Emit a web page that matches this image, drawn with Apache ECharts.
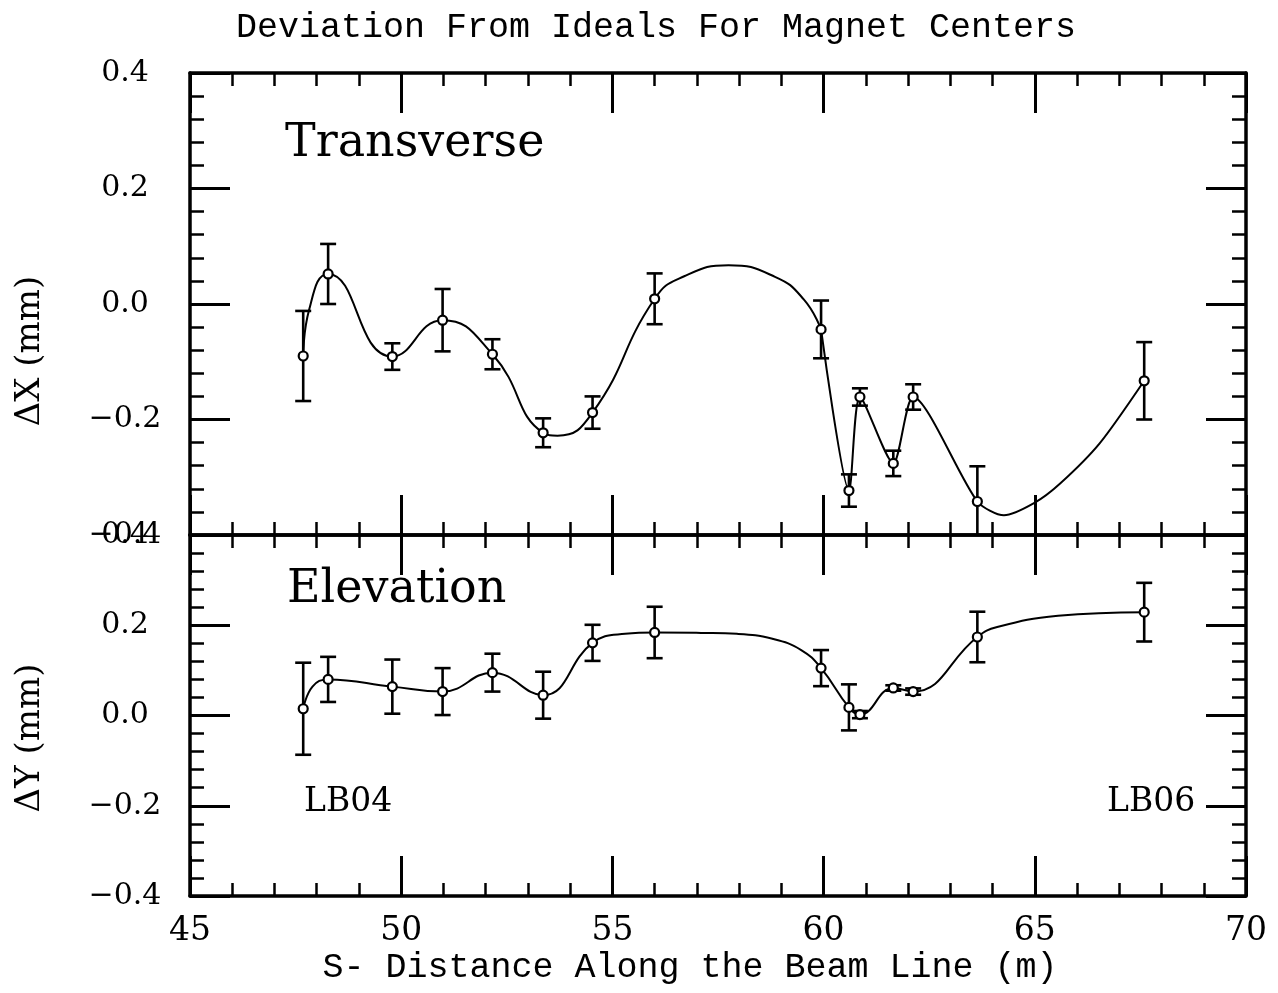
<!DOCTYPE html>
<html>
<head>
<meta charset="utf-8">
<script src="https://cdn.jsdelivr.net/npm/echarts@6/dist/echarts.min.js"></script>
<style>
  html, body { margin: 0; padding: 0; background: #fff; }
  #chart { width: 1278px; height: 993px; }
</style>
</head>
<body>
<div id="chart"></div>
<script>
// ---- Data ----
const magnetS = [47.68, 48.27, 49.79, 50.98, 52.16, 53.36, 54.53, 56.00, 59.94, 60.60, 60.86, 61.65, 62.12, 63.64, 67.59];
const deltaX  = [-0.090, 0.052, -0.091, -0.028, -0.087, -0.223, -0.188, 0.009, -0.044, -0.323, -0.161, -0.276, -0.161, -0.342, -0.133];
const deltaXErr = [0.078, 0.052, 0.023, 0.054, 0.026, 0.025, 0.028, 0.044, 0.050, 0.028, 0.015, 0.022, 0.022, 0.061, 0.067];
const deltaY  = [0.015, 0.080, 0.064, 0.053, 0.095, 0.045, 0.161, 0.184, 0.105, 0.018, 0.002, 0.061, 0.053, 0.174, 0.229];
const deltaYErr = [0.102, 0.050, 0.060, 0.052, 0.042, 0.052, 0.040, 0.057, 0.040, 0.051, 0.008, 0.006, 0.007, 0.056, 0.065];

// drawn fit curves (smooth part, then the sharp part)
const curveXS1 = [47.68, 47.82, 48.27, 49.79, 50.98, 52.16, 53.36, 53.70, 54.53, 56.00, 56.70, 57.75, 58.85, 59.53, 59.94];
const curveXV1 = [-0.090, -0.010, 0.052, -0.091, -0.028, -0.087, -0.223, -0.228, -0.188, 0.009, 0.048, 0.067, 0.047, 0.008, -0.044];
const curveXS2 = [59.94, 60.60, 60.86, 61.65, 62.12, 63.64, 64.27, 64.98, 65.60, 66.54, 67.59];
const curveXV2 = [-0.044, -0.323, -0.161, -0.276, -0.161, -0.342, -0.366, -0.345, -0.311, -0.241, -0.133];
const curveYS = [47.68, 47.90, 48.27, 49.79, 50.98, 52.16, 53.36, 54.53, 55.30, 56.00, 57.10, 57.95, 58.79, 59.47, 59.94, 60.60, 60.86, 61.65, 62.12, 63.64, 64.11, 65.55, 67.59];
const curveYV = [0.015, 0.064, 0.080, 0.064, 0.053, 0.095, 0.045, 0.161, 0.181, 0.184, 0.183, 0.181, 0.170, 0.145, 0.105, 0.018, 0.002, 0.061, 0.053, 0.174, 0.196, 0.221, 0.229];

const sRange = [45, 70];
const devRange = [-0.4, 0.4];

const titleText = 'Deviation From Ideals For Magnet Centers';
const xName = 'S- Distance Along the Beam Line (m)';
const topYName = '\u0394X (mm)';
const botYName = '\u0394Y (mm)';
const topPanelLabel = 'Transverse';
const botPanelLabel = 'Elevation';
const leftMarker = 'LB04';
const rightMarker = 'LB06';

// ---- styling ----
const INK = '#000';
const serif = "'DejaVu Serif', 'Liberation Serif', serif";
const mono = "'Liberation Mono', 'DejaVu Sans Mono', monospace";

function fmtY(v) {
  const a = Math.abs(v).toFixed(1);
  return (v < -1e-9 ? '\u2212' : '') + a;
}

function xAxisCfg(grid, pos, showLabel) {
  return {
    type: 'value', gridIndex: grid, position: pos,
    min: sRange[0], max: sRange[1], interval: 5,
    axisLine: { show: true, onZero: false, lineStyle: { color: INK, width: 3.5 } },
    axisTick: { show: true, inside: true, length: 40, lineStyle: { color: INK, width: 3 } },
    minorTick: { show: true, splitNumber: 5, length: 13, lineStyle: { color: INK, width: 2.5 } },
    splitLine: { show: false },
    axisLabel: { show: showLabel, margin: 19, color: INK, fontFamily: serif, fontSize: 33,
                 formatter: v => String(v) }
  };
}
function yAxisCfg(grid, pos, showLabel) {
  return {
    type: 'value', gridIndex: grid, position: pos,
    min: devRange[0], max: devRange[1], interval: 0.2,
    axisLine: { show: true, onZero: false, lineStyle: { color: INK, width: 3.5 } },
    axisTick: { show: true, inside: true, length: 40, lineStyle: { color: INK, width: 3 } },
    minorTick: { show: true, splitNumber: 5, length: 14, lineStyle: { color: INK, width: 2.5 } },
    splitLine: { show: false },
    axisLabel: { show: showLabel, margin: 65, align: 'center', color: INK, fontFamily: serif, fontSize: 30,
                 formatter: fmtY }
  };
}

function errRender(params, api) {
  const x = api.value(0), y = api.value(1), e = api.value(2);
  const hi = api.coord([x, y + e]);
  const lo = api.coord([x, y - e]);
  const hw = 8;
  const st = { stroke: INK, lineWidth: 2.6 };
  return {
    type: 'group',
    children: [
      { type: 'line', shape: { x1: hi[0], y1: hi[1], x2: lo[0], y2: lo[1] }, style: st },
      { type: 'line', shape: { x1: hi[0] - hw, y1: hi[1], x2: hi[0] + hw, y2: hi[1] }, style: st },
      { type: 'line', shape: { x1: lo[0] - hw, y1: lo[1], x2: lo[0] + hw, y2: lo[1] }, style: st }
    ]
  };
}

const zip2 = (a, b) => a.map((v, i) => [v, b[i]]);
const zip3 = (a, b, c) => a.map((v, i) => [v, b[i], c[i]]);

const curveStyle = { color: INK, width: 2 };
const markerStyle = { color: '#fff', borderColor: INK, borderWidth: 2.2, opacity: 1 };

const chart = echarts.init(document.getElementById('chart'), null, { renderer: 'canvas' });

const option = {
  backgroundColor: '#fff',
  animation: false,
  grid: [
    { left: 190, top: 73, width: 1056, height: 462 },
    { left: 190, top: 535, width: 1056, height: 361 }
  ],
  xAxis: [
    xAxisCfg(0, 'bottom', false),
    xAxisCfg(0, 'top', false),
    xAxisCfg(1, 'bottom', true),
    xAxisCfg(1, 'top', false)
  ],
  yAxis: [
    yAxisCfg(0, 'left', true),
    yAxisCfg(0, 'right', false),
    yAxisCfg(1, 'left', true),
    yAxisCfg(1, 'right', false)
  ],
  series: [
    { type: 'line', name: 'dx-curve-a', xAxisIndex: 0, yAxisIndex: 0, data: zip2(curveXS1, curveXV1),
      smooth: 0.5, showSymbol: false, lineStyle: curveStyle, z: 2 },
    { type: 'line', name: 'dx-curve-b', xAxisIndex: 0, yAxisIndex: 0, data: zip2(curveXS2, curveXV2),
      smooth: 0.25, showSymbol: false, lineStyle: curveStyle, z: 2 },
    { type: 'custom', name: 'dx-err', xAxisIndex: 0, yAxisIndex: 0, data: zip3(magnetS, deltaX, deltaXErr),
      renderItem: errRender, clip: true, z: 3 },
    { type: 'scatter', name: 'dx', xAxisIndex: 0, yAxisIndex: 0, data: zip2(magnetS, deltaX),
      symbol: 'circle', symbolSize: 9, itemStyle: markerStyle, z: 4 },

    { type: 'line', name: 'dy-curve', xAxisIndex: 2, yAxisIndex: 2, data: zip2(curveYS, curveYV),
      smooth: 0.45, showSymbol: false, lineStyle: curveStyle, z: 2 },
    { type: 'custom', name: 'dy-err', xAxisIndex: 2, yAxisIndex: 2, data: zip3(magnetS, deltaY, deltaYErr),
      renderItem: errRender, clip: true, z: 3 },
    { type: 'scatter', name: 'dy', xAxisIndex: 2, yAxisIndex: 2, data: zip2(magnetS, deltaY),
      symbol: 'circle', symbolSize: 9, itemStyle: markerStyle, z: 4 }
  ],
  graphic: [
    { type: 'text', x: 656, y: 28,
      style: { text: titleText, fill: INK, font: "35px " + mono, align: 'center', verticalAlign: 'middle' } },
    { type: 'text', x: 285, y: 121,
      style: { text: topPanelLabel, fill: INK, font: "46px " + serif } },
    { type: 'text', x: 287, y: 567,
      style: { text: botPanelLabel, fill: INK, font: "46px " + serif } },
    { type: 'text', x: 304, y: 786,
      style: { text: leftMarker, fill: INK, font: "33px " + serif } },
    { type: 'text', x: 1107, y: 786,
      style: { text: rightMarker, fill: INK, font: "33px " + serif } },
    { type: 'text', x: 690, y: 968,
      style: { text: xName, fill: INK, font: "35px " + mono, align: 'center', verticalAlign: 'middle' } },
    { type: 'text', x: 30, y: 351, rotation: Math.PI / 2,
      style: { text: topYName, fill: INK, font: "34px " + serif, align: 'center', verticalAlign: 'middle' } },
    { type: 'text', x: 30, y: 738, rotation: Math.PI / 2,
      style: { text: botYName, fill: INK, font: "34px " + serif, align: 'center', verticalAlign: 'middle' } }
  ]
};
chart.setOption(option);
</script>
</body>
</html>
